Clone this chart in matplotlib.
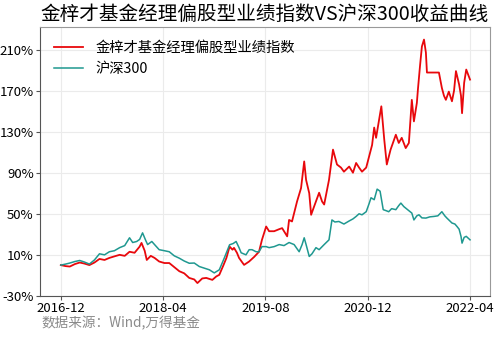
import pandas as pd
import matplotlib
matplotlib.use("Agg")
import matplotlib.pyplot as plt
import matplotlib.dates as mdates
from matplotlib.ticker import FuncFormatter

plt.rcParams['font.family'] = ['Noto Sans CJK SC', 'DejaVu Sans']
plt.rcParams['axes.unicode_minus'] = False

# 金梓才基金经理偏股型业绩指数 累计收益(%)
fund_dates = [
    "2016-12-01", "2016-12-24", "2017-01-13", "2017-02-06", "2017-03-01", "2017-03-23",
    "2017-04-16", "2017-05-10", "2017-06-03", "2017-06-27", "2017-07-20", "2017-08-13",
    "2017-09-07", "2017-10-01", "2017-10-24", "2017-11-17", "2017-12-11", "2017-12-20",
    "2018-01-04", "2018-01-14", "2018-02-02", "2018-02-20", "2018-03-14", "2018-04-08",
    "2018-05-01", "2018-05-25", "2018-06-18", "2018-07-11", "2018-08-04", "2018-08-28",
    "2018-09-12", "2018-10-05", "2018-10-24", "2018-11-22", "2018-12-11", "2018-12-25",
    "2019-01-14", "2019-01-28", "2019-02-12", "2019-02-26", "2019-03-05", "2019-03-19",
    "2019-03-29", "2019-04-12", "2019-04-22", "2019-05-16", "2019-06-09", "2019-07-02",
    "2019-07-16", "2019-08-05", "2019-08-19", "2019-09-12", "2019-10-06", "2019-10-20",
    "2019-11-13", "2019-11-22", "2019-12-06", "2019-12-30", "2020-01-18", "2020-02-02",
    "2020-02-11", "2020-02-26", "2020-03-06", "2020-03-20", "2020-04-13", "2020-04-27",
    "2020-05-07", "2020-05-30", "2020-06-18", "2020-07-07", "2020-07-26", "2020-08-09",
    "2020-09-03", "2020-09-21", "2020-10-06", "2020-10-20", "2020-11-03", "2020-11-23",
    "2020-12-07", "2020-12-21", "2020-12-31", "2021-01-09", "2021-02-03", "2021-02-17",
    "2021-03-01", "2021-03-19", "2021-04-13", "2021-04-27", "2021-05-11", "2021-05-30",
    "2021-06-14", "2021-06-28", "2021-07-08", "2021-07-22", "2021-07-27", "2021-08-06",
    "2021-08-15", "2021-08-25", "2021-09-03", "2021-09-08", "2021-11-04", "2021-11-18",
    "2021-11-28", "2021-12-07", "2021-12-21", "2022-01-05", "2022-01-15", "2022-01-24",
    "2022-02-08", "2022-02-17", "2022-02-22", "2022-03-04", "2022-03-14", "2022-04-01",
]
fund_values = [
    0, -1, -1.4, 1, 2.5, 1.5,
    0, 2.5, 6, 5, 7, 8.5,
    10, 9, 13, 12, 18, 21.6,
    14, 5, 9, 7, 3.5, 2,
    2, -2, -6, -8, -12.5, -14,
    -17.5, -13, -12.5, -14.4, -11, -9.5,
    0, 7, 18, 15, 16.8, 12,
    7, 3, 0.2, 3.5, 8, 13,
    24.6, 37.6, 33, 33, 35, 36,
    28, 44, 42.5, 62, 75, 101,
    83, 70, 49, 57, 70.5, 62,
    59, 83, 112.5, 98, 95, 91,
    96, 90, 99.5, 95, 91, 95,
    106, 117, 134, 124, 154.7, 122,
    98, 112.5, 127, 119, 124, 114,
    119, 161, 140, 158, 171, 194,
    213, 219.7, 207, 187.6, 187.6, 172.6,
    165, 161, 169, 159.6, 170, 189,
    176, 165, 148, 177.6, 190.5, 180.7,
]

# 沪深300 累计收益(%)
hs300_dates = [
    "2016-12-01", "2016-12-24", "2017-01-13", "2017-02-06", "2017-03-01", "2017-03-23",
    "2017-04-16", "2017-05-10", "2017-06-03", "2017-06-27", "2017-07-20", "2017-08-13",
    "2017-09-07", "2017-10-01", "2017-10-24", "2017-11-08", "2017-11-27", "2017-12-11",
    "2017-12-25", "2018-01-09", "2018-01-18", "2018-02-07", "2018-02-20", "2018-03-14",
    "2018-04-08", "2018-05-01", "2018-05-25", "2018-06-18", "2018-07-11", "2018-08-04",
    "2018-08-28", "2018-09-21", "2018-10-15", "2018-11-08", "2018-12-01", "2018-12-25",
    "2019-01-18", "2019-02-12", "2019-03-01", "2019-03-15", "2019-03-29", "2019-04-08",
    "2019-05-01", "2019-05-16", "2019-05-30", "2019-06-18", "2019-07-02", "2019-07-16",
    "2019-08-05", "2019-08-19", "2019-09-12", "2019-10-06", "2019-10-29", "2019-11-22",
    "2019-12-16", "2020-01-09", "2020-01-23", "2020-02-02", "2020-02-11", "2020-02-26",
    "2020-03-10", "2020-03-29", "2020-04-13", "2020-05-07", "2020-05-30", "2020-06-13",
    "2020-06-27", "2020-07-16", "2020-08-09", "2020-09-03", "2020-09-21", "2020-10-06",
    "2020-10-20", "2020-11-03", "2020-11-23", "2020-12-07", "2020-12-16", "2020-12-31",
    "2021-01-14", "2021-01-28", "2021-02-12", "2021-02-26", "2021-03-10", "2021-03-24",
    "2021-04-13", "2021-04-27", "2021-05-07", "2021-05-21", "2021-05-30", "2021-06-14",
    "2021-06-28", "2021-07-08", "2021-07-22", "2021-08-01", "2021-08-15", "2021-09-03",
    "2021-09-22", "2021-10-11", "2021-10-30", "2021-11-18", "2021-12-02", "2021-12-12",
    "2021-12-26", "2022-01-05", "2022-01-19", "2022-01-29", "2022-02-08", "2022-02-17",
    "2022-02-22", "2022-03-04", "2022-03-14", "2022-04-01",
]
hs300_values = [
    0, 1, 2, 3.5, 4.5, 3,
    1, 5, 11, 10, 13, 14,
    17, 19, 26.6, 22, 23, 25,
    31.4, 24, 20, 23, 20, 15,
    14, 13, 9, 6.7, 4, 1.8,
    2, -1.4, -3, -4.6, -7.6, -4.6,
    7, 19.8, 21, 23, 17, 12,
    10, 15, 15, 13, 13, 18,
    18, 17, 18, 20, 19, 22,
    20, 13, 20, 26.6, 20, 8.4,
    11, 17, 15, 20, 24.6, 44,
    42, 42.5, 40, 43, 45, 47.4,
    50, 49, 52, 60, 65.6, 63.7,
    74, 72, 54, 53, 52, 55,
    54, 58, 60.4, 57, 55.5, 53,
    50.7, 44, 48, 49, 46, 45.8,
    47, 47.4, 48, 52, 48, 45.8,
    43, 41, 40, 37.6, 35, 28,
    21.4, 27, 28, 24.6,
]

x_ticks = ["2016-12-01", "2018-04-01", "2019-08-01", "2020-12-01", "2022-04-01"]
y_ticks = [-30, 10, 50, 90, 130, 170, 210]

fig = plt.figure(figsize=(5, 3.37), dpi=100)
ax = fig.add_axes([0.08, 0.122, 0.90, 0.798])

ax.plot(pd.to_datetime(fund_dates), fund_values, color='#e8080c', lw=1.3,
        label='金梓才基金经理偏股型业绩指数')
ax.plot(pd.to_datetime(hs300_dates), hs300_values, color='#1f9890', lw=1.1,
        label='沪深300')

ax.set_xlim(pd.Timestamp("2016-08-24"), pd.Timestamp("2022-07-05"))
ax.set_ylim(-30, 232)
ax.set_xticks(pd.to_datetime(x_ticks))
ax.xaxis.set_major_formatter(mdates.DateFormatter('%Y-%m'))
ax.set_yticks(y_ticks)
ax.yaxis.set_major_formatter(FuncFormatter(lambda v, p: f'{v:.0f}%'))
ax.tick_params(labelsize=9.5, length=3, color='#555555', pad=1.5)

ax.grid(True, color='#ebebeb', lw=0.8)
ax.set_axisbelow(True)
for side in ['left', 'bottom']:
    ax.spines[side].set_color('#555555')
for side in ['top', 'right']:
    ax.spines[side].set_color('#999999')

ax.legend(loc='upper left', frameon=False, fontsize=10.3, handlelength=2.0,
          handletextpad=0.9, borderaxespad=0.6, labelspacing=0.45)

fig.text(0.53, 0.958, '金梓才基金经理偏股型业绩指数VS沪深300收益曲线',
         ha='center', va='center', fontsize=14.1)
fig.text(0.082, 0.04, '数据来源：Wind,万得基金', ha='left', va='center',
         fontsize=9.8, color='#8a8a8a')

fig.savefig('out.png', dpi=100)
